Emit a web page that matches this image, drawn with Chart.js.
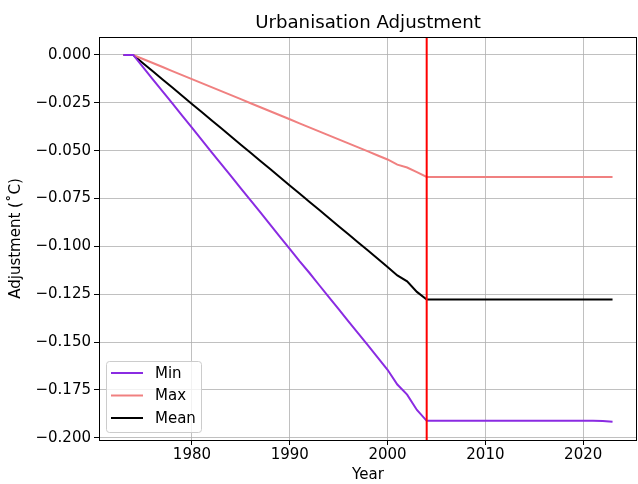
<!DOCTYPE html>
<html>
<head>
<meta charset="utf-8">
<script src="https://cdn.jsdelivr.net/npm/chart.js@4"></script>
<style>
  html, body { margin: 0; padding: 0; background: #fff; }
  #wrap { width: 638px; height: 484px; }
</style>
</head>
<body>
<div id="wrap"><canvas id="chart" width="638" height="484"></canvas></div>
<script>
// data
const years = [1973, 1974, 1975, 1976, 1977, 1978, 1979, 1980, 1981, 1982, 1983, 1984, 1985, 1986, 1987, 1988, 1989,
    1990, 1991, 1992, 1993, 1994, 1995, 1996, 1997, 1998, 1999, 2000, 2001, 2002, 2003, 2004, 2005, 2006,
    2007, 2008, 2009, 2010, 2011, 2012, 2013, 2014, 2015, 2016, 2017, 2018, 2019, 2020, 2021, 2022, 2023];
const minAdj = [0, 0, -0.0063, -0.0127, -0.019, -0.0253, -0.0317, -0.038, -0.0443, -0.0507, -0.057, -0.0633, -0.0697,
    -0.076, -0.0823, -0.0887, -0.095, -0.1013, -0.1077, -0.1138, -0.1202, -0.1265, -0.1328, -0.1392, -0.1455,
    -0.1518, -0.1582, -0.1645, -0.1722, -0.1775, -0.1855, -0.1912, -0.1912, -0.1912, -0.1912, -0.1912, -0.1912,
    -0.1912, -0.1912, -0.1912, -0.1912, -0.1912, -0.1912, -0.1912, -0.1912, -0.1912, -0.1912, -0.1912, -0.1912,
    -0.1913, -0.1917];
const maxAdj = [0, 0, -0.0021, -0.0042, -0.0063, -0.0084, -0.0105, -0.0126, -0.0147, -0.0168, -0.0189, -0.021, -0.0231,
    -0.0252, -0.0273, -0.0294, -0.0315, -0.0336, -0.0357, -0.0378, -0.0399, -0.042, -0.0441, -0.0462, -0.0483,
    -0.0504, -0.0525, -0.0546, -0.0573, -0.0588, -0.0612, -0.0637, -0.0637, -0.0637, -0.0637, -0.0637, -0.0637,
    -0.0637, -0.0637, -0.0637, -0.0637, -0.0637, -0.0637, -0.0637, -0.0637, -0.0637, -0.0637, -0.0637, -0.0637,
    -0.0637, -0.0638];
const meanAdj = [0, 0, -0.0043, -0.0085, -0.0128, -0.017, -0.0213, -0.0256, -0.0298, -0.0341, -0.0383, -0.0426, -0.0469,
    -0.0511, -0.0554, -0.0596, -0.0639, -0.0682, -0.0724, -0.0767, -0.0809, -0.0852, -0.0895, -0.0937, -0.098,
    -0.1022, -0.1065, -0.1108, -0.1152, -0.1183, -0.1238, -0.1278, -0.1278, -0.1278, -0.1278, -0.1278, -0.1278,
    -0.1278, -0.1278, -0.1278, -0.1278, -0.1278, -0.1278, -0.1278, -0.1278, -0.1278, -0.1278, -0.1278, -0.1278,
    -0.1278, -0.1278];
const vlineYear = 2004;
const xTicks = [1980, 1990, 2000, 2010, 2020];
const yTicks = [0, -0.025, -0.05, -0.075, -0.1, -0.125, -0.15, -0.175, -0.2];
const titleText = 'Urbanisation Adjustment';

const FONT = "'DejaVu Sans', sans-serif";
const TICK_SIZE = 15;
const toPts = arr => arr.map((v, i) => ({ x: years[i], y: v }));

// title over the plot, box round the plot, red marker line, legend inside the plot
const extras = {
    id: 'extras',
    afterDatasetsDraw(chart) {
        const { ctx, chartArea: a, scales } = chart;
        const px = scales.x.getPixelForValue(vlineYear);
        ctx.save();
        ctx.strokeStyle = '#ff0000';
        ctx.lineWidth = 2;
        ctx.beginPath();
        ctx.moveTo(px, a.top);
        ctx.lineTo(px, a.bottom);
        ctx.stroke();

        ctx.strokeStyle = '#000';
        ctx.lineWidth = 1;
        ctx.strokeRect(Math.round(a.left) + 0.5, Math.round(a.top) + 0.5,
            Math.round(a.right - a.left) - 1, Math.round(a.bottom - a.top));

        // title
        ctx.fillStyle = '#000';
        ctx.font = '18.2px ' + FONT;
        ctx.textAlign = 'center';
        ctx.textBaseline = 'alphabetic';
        ctx.fillText(titleText, (a.left + a.right) / 2, a.top - 9);

        // legend
        const lx = a.left + 7, ly = a.bottom - 79, lw = 95, lh = 71;
        ctx.fillStyle = 'rgba(255,255,255,0.8)';
        ctx.strokeStyle = '#cccccc';
        ctx.beginPath();
        ctx.roundRect(lx + 0.5, ly + 0.5, lw, lh, 3);
        ctx.fill();
        ctx.stroke();
        ctx.font = TICK_SIZE + 'px ' + FONT;
        ctx.textAlign = 'left';
        ctx.textBaseline = 'middle';
        chart.data.datasets.forEach((ds, i) => {
            const y = ly + 12 + i * 22.5;
            ctx.strokeStyle = ds.borderColor;
            ctx.lineWidth = 2;
            ctx.beginPath();
            ctx.moveTo(lx + 5, y);
            ctx.lineTo(lx + 37, y);
            ctx.stroke();
            ctx.fillStyle = '#000';
            ctx.fillText(ds.label, lx + 49, y + 1);
        });
        ctx.restore();
    }
};

new Chart(document.getElementById('chart'), {
    type: 'line',
    data: {
        datasets: [
            { label: 'Min', data: toPts(minAdj), borderColor: '#8a2be2' },
            { label: 'Max', data: toPts(maxAdj), borderColor: '#f08080' },
            { label: 'Mean', data: toPts(meanAdj), borderColor: '#000000' }
        ]
    },
    options: {
        responsive: false,
        animation: false,
        layout: { padding: { left: 0, right: 1, top: 37, bottom: 0 } },
        elements: {
            point: { radius: 0 },
            line: { borderWidth: 2, tension: 0 }
        },
        plugins: {
            legend: { display: false },
            tooltip: { enabled: false },
            title: { display: false }
        },
        scales: {
            x: {
                type: 'linear',
                min: 1970.5,
                max: 2025.5,
                afterBuildTicks: s => { s.ticks = xTicks.map(v => ({ value: v })); },
                afterFit: s => { s.height = 44; },
                ticks: {
                    color: '#000',
                    font: { family: FONT, size: TICK_SIZE },
                    padding: 1,
                    maxRotation: 0,
                    callback: v => String(v)
                },
                grid: { color: '#b0b0b0', lineWidth: 0.8, tickColor: '#000', tickLength: 5, tickWidth: 1 },
                border: { display: false },
                title: {
                    display: true,
                    text: 'Year',
                    color: '#000',
                    font: { family: FONT, size: TICK_SIZE },
                    padding: { top: 0, bottom: 0 }
                }
            },
            y: {
                type: 'linear',
                min: -0.2012,
                max: 0.0094,
                afterBuildTicks: s => { s.ticks = yTicks.map(v => ({ value: v })); },
                afterFit: s => { s.width = 99; },
                ticks: {
                    color: '#000',
                    font: { family: FONT, size: TICK_SIZE },
                    padding: 3,
                    callback: v => (v < 0 ? '\u2212' : '') + Math.abs(v).toFixed(3)
                },
                grid: { color: '#b0b0b0', lineWidth: 0.8, tickColor: '#000', tickLength: 5, tickWidth: 1 },
                border: { display: false },
                title: {
                    display: true,
                    text: 'Adjustment (\u02DAC)',
                    color: '#000',
                    font: { family: FONT, size: TICK_SIZE },
                    padding: { top: 7, bottom: 0 }
                }
            }
        }
    },
    plugins: [extras]
});
</script>
</body>
</html>
